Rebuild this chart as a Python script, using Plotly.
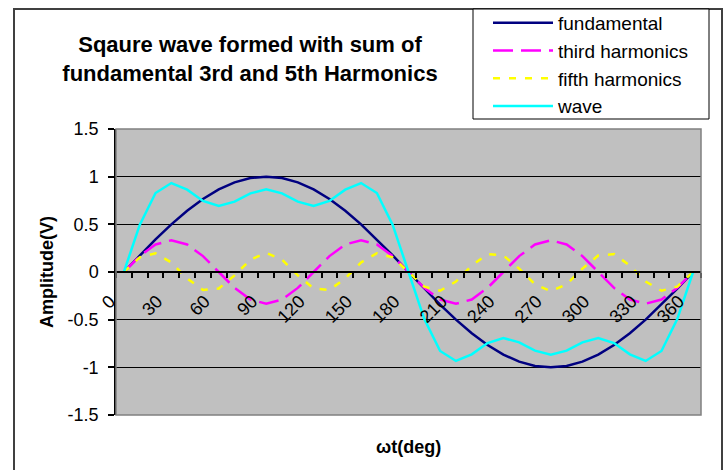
import plotly.graph_objects as go

# ---- data ----
angle_deg = [0, 10, 20, 30, 40, 50, 60, 70, 80, 90, 100, 110, 120, 130, 140, 150, 160, 170, 180,
             190, 200, 210, 220, 230, 240, 250, 260, 270, 280, 290, 300, 310, 320, 330, 340, 350, 360]

fundamental = [0, 0.174, 0.342, 0.5, 0.643, 0.766, 0.866, 0.94, 0.985, 1, 0.985, 0.94, 0.866, 0.766,
               0.643, 0.5, 0.342, 0.174, 0, -0.174, -0.342, -0.5, -0.643, -0.766, -0.866, -0.94,
               -0.985, -1, -0.985, -0.94, -0.866, -0.766, -0.643, -0.5, -0.342, -0.174, 0]

third_harmonics = [0, 0.167, 0.289, 0.333, 0.289, 0.167, 0, -0.167, -0.289, -0.333, -0.289, -0.167,
                   0, 0.167, 0.289, 0.333, 0.289, 0.167, 0, -0.167, -0.289, -0.333, -0.289, -0.167,
                   0, 0.167, 0.289, 0.333, 0.289, 0.167, 0, -0.167, -0.289, -0.333, -0.289, -0.167, 0]

fifth_harmonics = [0, 0.153, 0.197, 0.1, -0.068, -0.188, -0.173, -0.035, 0.129, 0.2, 0.129, -0.035,
                   -0.173, -0.188, -0.068, 0.1, 0.197, 0.153, 0, -0.153, -0.197, -0.1, 0.068, 0.188,
                   0.173, 0.035, -0.129, -0.2, -0.129, 0.035, 0.173, 0.188, 0.068, -0.1, -0.197,
                   -0.153, 0]

wave = [0, 0.494, 0.828, 0.933, 0.864, 0.745, 0.693, 0.738, 0.825, 0.867, 0.825, 0.738, 0.693,
        0.745, 0.864, 0.933, 0.828, 0.494, 0, -0.494, -0.828, -0.933, -0.864, -0.745, -0.693,
        -0.738, -0.825, -0.867, -0.825, -0.738, -0.693, -0.745, -0.864, -0.933, -0.828, -0.494, 0]

x_tick_vals = [0, 30, 60, 90, 120, 150, 180, 210, 240, 270, 300, 330, 360]
x_tick_text = ["0", "30", "60", "90", "120", "150", "180", "210", "240", "270", "300", "330", "360"]
y_tick_vals = [-1.5, -1, -0.5, 0, 0.5, 1, 1.5]
y_tick_text = ["-1.5", "-1", "-0.5", "0", "0.5", "1", "1.5"]

FONT = "Liberation Sans, Arial, sans-serif"

fig = go.Figure()
series = [
    ("fundamental", fundamental, "#000080", "solid"),
    ("third harmonics", third_harmonics, "#FF00FF", "20px,8px"),
    ("fifth harmonics", fifth_harmonics, "#FFFF00", "7px,9px"),
    ("wave", wave, "#00FFFF", "solid"),
]
for name, vals, color, dash in series:
    fig.add_trace(go.Scatter(x=angle_deg, y=vals, name=name, mode="lines",
                             line=dict(color=color, width=2.5, dash=dash)))

L, R, T, B = 116, 24, 129, 55
W, H = 725, 470
pw = W - L - R
ph = H - T - B

def px_x(px):
    return (px - L) / pw

def px_y(py):
    return (H - B - py) / ph

fig.update_layout(
    width=W, height=H,
    margin=dict(l=L, r=R, t=T, b=B, autoexpand=False),
    paper_bgcolor="white",
    plot_bgcolor="#C0C0C0",
    font=dict(family=FONT, color="black", size=18),
    title=dict(text="<b>Sqaure wave formed with sum of<br>fundamental 3rd and 5th Harmonics</b>",
               x=250 / W, xanchor="center", xref="container",
               y=1 - 52 / H, yanchor="top", yref="container",
               font=dict(family=FONT, size=22, color="black")),
    showlegend=True,
    legend=dict(x=px_x(488), y=px_y(4), xanchor="left", yanchor="top",
                bgcolor="rgba(0,0,0,0)", borderwidth=0,
                font=dict(family=FONT, size=19, color="black"),
                itemwidth=60, tracegroupgap=0),
    xaxis=dict(range=[-5, 365], anchor="free", position=0.5, automargin=False,
               tickmode="array", tickvals=x_tick_vals, ticktext=x_tick_text,
               tickangle=-45, ticks="", showgrid=False, zeroline=False,
               showline=True, linecolor="black", linewidth=1.5,
               tickfont=dict(family=FONT, size=18, color="black"),
               ticklabelshift=-14, ticklabelstandoff=11,
               minor=dict(tickmode="linear", tick0=-5, dtick=10, ticks="outside", ticklen=5,
                          tickwidth=1.5, tickcolor="black", showgrid=False)),
    yaxis=dict(range=[-1.5, 1.5], tickmode="array", tickvals=y_tick_vals, ticktext=y_tick_text,
               automargin=False,
               showgrid=True, gridcolor="black", gridwidth=1, zeroline=True,
               zerolinecolor="black", zerolinewidth=1,
               ticks="outside", ticklen=6, tickwidth=1.5, tickcolor="black",
               showline=True, linecolor="black", linewidth=1.5,
               tickfont=dict(family=FONT, size=18, color="black"),
               ticklabelstandoff=6,
               title=dict(text="<b>Amplitude(V)</b>", font=dict(family=FONT, size=18), standoff=9)),
    annotations=[
        dict(text="<b>ωt(deg)</b>", xref="paper", yref="paper", x=0.5, y=px_y(447),
             xanchor="center", yanchor="middle", showarrow=False,
             font=dict(family=FONT, size=18, color="black")),
    ],
    shapes=[
        dict(type="rect", xref="paper", yref="paper", x0=0, x1=1, y0=0, y1=1,
             line=dict(color="#808080", width=1.5), layer="above"),
        dict(type="rect", xref="paper", yref="paper", x0=px_x(14), x1=px_x(722),
             y0=px_y(480), y1=px_y(9), line=dict(color="#404040", width=2), layer="above"),
        dict(type="rect", xref="paper", yref="paper", x0=px_x(473), x1=px_x(709),
             y0=px_y(119), y1=px_y(9), line=dict(color="black", width=1),
             fillcolor="white", layer="above"),
    ],
)

fig.write_html("out.html", config={"displayModeBar": False},
               post_script="document.body.style.margin='0';")
